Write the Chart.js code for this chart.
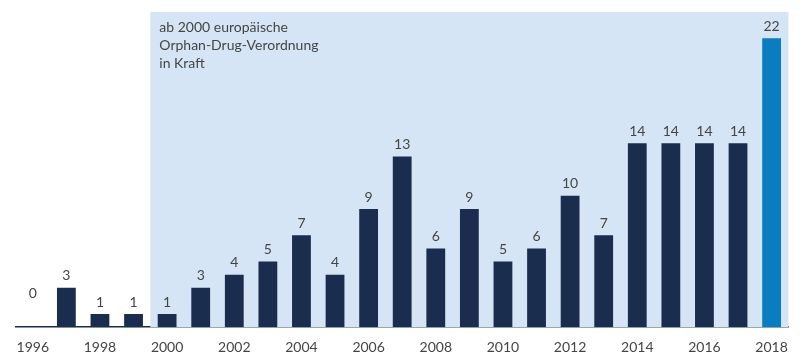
<!DOCTYPE html>
<html>
<head>
<meta charset="utf-8">
<script src="https://cdn.jsdelivr.net/npm/chart.js@4/dist/chart.umd.min.js"></script>
<style>
html,body{margin:0;padding:0;background:#fff;}
#wrap{width:800px;height:364px;position:relative;}
</style>
</head>
<body>
<div id="wrap"><canvas id="c"></canvas></div>
<script>
const years = ['1996','1997','1998','1999','2000','2001','2002','2003','2004','2005','2006','2007','2008','2009','2010','2011','2012','2013','2014','2015','2016','2017','2018'];
const approvals = [0,3,1,1,1,3,4,5,7,4,9,13,6,9,5,6,10,7,14,14,14,14,22];
const highlightYear = '2018';
const regulationStart = '2000';
const noteLines = ['ab 2000 europäische','Orphan-Drug-Verordnung','in Kraft'];

const DARK = '#1b2d4f', BLUE = '#0a7dc2', SHADE = '#d5e5f5', TEXT = '#454545';
const FONT = 'Lato, "Open Sans", sans-serif';

const shadePlugin = {
  id: 'shade',
  beforeDatasetsDraw(chart) {
    const {ctx, chartArea, scales} = chart;
    const x = scales.x;
    const idx = years.indexOf(regulationStart);
    const step = x.getPixelForValue(1) - x.getPixelForValue(0);
    const left = x.getPixelForValue(idx) - step / 2;
    ctx.save();
    ctx.fillStyle = SHADE;
    ctx.fillRect(left, chartArea.top, chartArea.right - left, chartArea.bottom - chartArea.top);
    ctx.fillStyle = TEXT;
    ctx.font = '14px ' + FONT;
    ctx.textBaseline = 'middle';
    ctx.textAlign = 'left';
    noteLines.forEach((l, i) => ctx.fillText(l, left + 9, chartArea.top + 15 + i * 18));
    ctx.restore();
  },
  afterDatasetsDraw(chart) {
    const {ctx} = chart;
    const meta = chart.getDatasetMeta(0);
    ctx.save();
    ctx.fillStyle = TEXT;
    ctx.font = '14px ' + FONT;
    ctx.textAlign = 'center';
    ctx.textBaseline = 'middle';
    meta.data.forEach((bar, i) => {
      const v = approvals[i];
      const off = v === 0 ? 34 : 12;
      ctx.fillText(String(v), bar.x, bar.y - off);
    });
    ctx.restore();
  }
};

new Chart(document.getElementById('c'), {
  type: 'bar',
  data: {
    labels: years,
    datasets: [{
      data: approvals,
      backgroundColor: years.map(y => y === highlightYear ? BLUE : DARK),
      borderWidth: 0,
      categoryPercentage: 1,
      barPercentage: 0.56
    }]
  },
  options: {
    responsive: true,
    maintainAspectRatio: false,
    animation: false,
    layout: {padding: {left: 16, right: 7, top: 12, bottom: -4}},
    plugins: {legend: {display: false}, tooltip: {enabled: false}},
    scales: {
      x: {
        grid: {display: false, drawTicks: false},
        border: {display: true, color: DARK, width: 1.5},
        ticks: {
          autoSkip: false, maxRotation: 0, padding: 12,
          color: TEXT, font: {size: 14, family: FONT},
          callback: (v, i) => (parseInt(years[i]) % 2 === 0 ? years[i] : '')
        }
      },
      y: {
        display: false,
        min: 0, max: 24
      }
    }
  },
  plugins: [shadePlugin]
});
</script>
</body>
</html>
